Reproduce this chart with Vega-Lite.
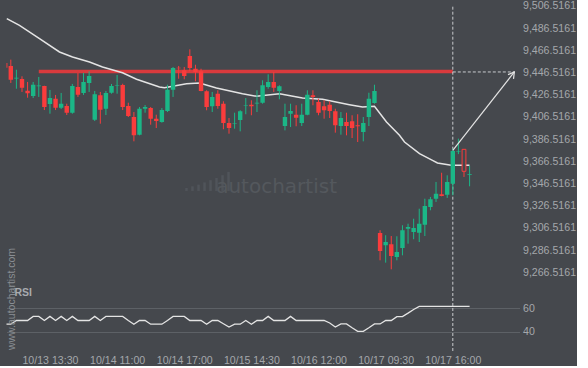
{
  "$schema": "https://vega.github.io/schema/vega-lite/v6.json",
  "background": "#45484d",
  "padding": {"left": 3.5, "top": 0, "right": 0, "bottom": 0},
  "spacing": 0,
  "bounds": "flush",
  "config": {
    "font": "Liberation Sans",
    "view": {"stroke": null},
    "scale": {"continuousPadding": 0},
    "axis": {"labelFont": "Liberation Sans", "labelFontSize": 10.6, "labelColor": "#a4a7ab", "ticks": false, "domain": false, "grid": false, "labelFlush": false, "labelOverlap": false, "tickCount": 30, "title": null}
  },
  "datasets": {
    "candles": [
      {"i":0,"o":9455.1,"h":9456.5,"l":9450.0,"c":9450.8},
      {"i":1,"o":9452.4,"h":9458.1,"l":9437.1,"c":9440.0},
      {"i":2,"o":9441.2,"h":9449.0,"l":9431.9,"c":9441.8},
      {"i":3,"o":9440.7,"h":9443.1,"l":9429.0,"c":9432.8},
      {"i":4,"o":9430.1,"h":9438.0,"l":9423.8,"c":9427.8},
      {"i":5,"o":9425.4,"h":9438.0,"l":9423.5,"c":9435.5},
      {"i":6,"o":9434.2,"h":9442.5,"l":9424.5,"c":9434.8},
      {"i":7,"o":9434.4,"h":9434.6,"l":9412.7,"c":9415.4},
      {"i":8,"o":9418.1,"h":9430.8,"l":9409.4,"c":9423.5},
      {"i":9,"o":9422.9,"h":9426.3,"l":9412.7,"c":9414.8},
      {"i":10,"o":9414.8,"h":9428.1,"l":9413.6,"c":9418.4},
      {"i":11,"o":9416.3,"h":9418.4,"l":9408.2,"c":9410.3},
      {"i":12,"o":9410.3,"h":9436.2,"l":9409.4,"c":9434.4},
      {"i":13,"o":9433.5,"h":9446.1,"l":9424.5,"c":9426.5},
      {"i":14,"o":9428.1,"h":9446.1,"l":9426.3,"c":9438.0},
      {"i":15,"o":9437.1,"h":9447.6,"l":9429.0,"c":9443.4},
      {"i":16,"o":9404.0,"h":9429.9,"l":9402.8,"c":9426.9},
      {"i":17,"o":9426.0,"h":9429.0,"l":9400.4,"c":9413.0},
      {"i":18,"o":9413.9,"h":9429.9,"l":9408.2,"c":9428.1},
      {"i":19,"o":9428.3,"h":9436.2,"l":9427.4,"c":9434.4},
      {"i":20,"o":9434.4,"h":9444.3,"l":9427.4,"c":9434.9},
      {"i":21,"o":9435.3,"h":9436.4,"l":9412.7,"c":9415.4},
      {"i":22,"o":9416.3,"h":9419.3,"l":9406.4,"c":9407.3},
      {"i":23,"o":9406.4,"h":9410.9,"l":9384.5,"c":9389.9},
      {"i":24,"o":9390.5,"h":9415.4,"l":9389.9,"c":9413.9},
      {"i":25,"o":9413.9,"h":9417.2,"l":9410.3,"c":9415.4},
      {"i":26,"o":9414.5,"h":9415.4,"l":9399.5,"c":9404.9},
      {"i":27,"o":9404.9,"h":9408.5,"l":9396.5,"c":9402.8},
      {"i":28,"o":9401.9,"h":9414.5,"l":9401.3,"c":9412.7},
      {"i":29,"o":9411.8,"h":9435.5,"l":9410.9,"c":9431.0},
      {"i":30,"o":9431.0,"h":9451.5,"l":9424.5,"c":9450.6},
      {"i":31,"o":9450.8,"h":9452.4,"l":9440.9,"c":9450.3},
      {"i":32,"o":9448.5,"h":9451.5,"l":9440.4,"c":9443.4},
      {"i":33,"o":9461.4,"h":9467.4,"l":9447.6,"c":9450.6},
      {"i":34,"o":9449.9,"h":9453.5,"l":9438.6,"c":9447.0},
      {"i":35,"o":9447.6,"h":9449.9,"l":9429.6,"c":9429.9},
      {"i":36,"o":9429.6,"h":9430.5,"l":9412.5,"c":9415.4},
      {"i":37,"o":9416.1,"h":9429.0,"l":9410.9,"c":9424.5},
      {"i":38,"o":9427.4,"h":9430.5,"l":9413.9,"c":9416.3},
      {"i":39,"o":9418.4,"h":9420.6,"l":9395.4,"c":9401.0},
      {"i":40,"o":9401.0,"h":9405.5,"l":9391.4,"c":9396.5},
      {"i":41,"o":9400.1,"h":9410.3,"l":9395.9,"c":9400.6},
      {"i":42,"o":9403.7,"h":9412.5,"l":9393.5,"c":9411.6},
      {"i":43,"o":9416.5,"h":9423.5,"l":9408.9,"c":9417.0},
      {"i":44,"o":9417.5,"h":9421.5,"l":9408.0,"c":9416.1},
      {"i":45,"o":9418.7,"h":9430.5,"l":9410.9,"c":9419.3},
      {"i":46,"o":9419.3,"h":9439.5,"l":9418.4,"c":9435.0},
      {"i":47,"o":9433.5,"h":9444.9,"l":9431.9,"c":9438.0},
      {"i":48,"o":9438.0,"h":9447.0,"l":9429.0,"c":9432.8},
      {"i":49,"o":9429.9,"h":9435.0,"l":9422.4,"c":9434.1},
      {"i":50,"o":9398.3,"h":9418.4,"l":9394.4,"c":9406.4},
      {"i":51,"o":9409.4,"h":9418.4,"l":9397.4,"c":9411.8},
      {"i":52,"o":9408.5,"h":9417.0,"l":9398.1,"c":9405.8},
      {"i":53,"o":9401.0,"h":9418.4,"l":9398.3,"c":9408.5},
      {"i":54,"o":9408.5,"h":9430.5,"l":9408.0,"c":9426.5},
      {"i":55,"o":9426.0,"h":9430.5,"l":9417.0,"c":9424.5},
      {"i":56,"o":9419.9,"h":9422.9,"l":9408.0,"c":9410.3},
      {"i":57,"o":9416.1,"h":9421.5,"l":9404.9,"c":9412.5},
      {"i":58,"o":9417.5,"h":9420.6,"l":9405.5,"c":9411.8},
      {"i":59,"o":9411.6,"h":9413.9,"l":9392.3,"c":9399.0},
      {"i":60,"o":9398.3,"h":9410.9,"l":9390.5,"c":9405.5},
      {"i":61,"o":9401.9,"h":9410.3,"l":9389.9,"c":9398.3},
      {"i":62,"o":9402.6,"h":9408.0,"l":9387.5,"c":9396.5},
      {"i":63,"o":9399.0,"h":9408.9,"l":9383.9,"c":9398.1},
      {"i":64,"o":9392.9,"h":9406.4,"l":9384.5,"c":9401.0},
      {"i":65,"o":9406.4,"h":9428.3,"l":9398.3,"c":9422.9},
      {"i":66,"o":9419.0,"h":9435.5,"l":9418.4,"c":9429.9},
      {"i":67,"o":9301.9,"h":9304.4,"l":9277.3,"c":9285.7},
      {"i":68,"o":9290.8,"h":9299.9,"l":9275.2,"c":9293.8},
      {"i":69,"o":9291.7,"h":9299.2,"l":9269.2,"c":9281.2},
      {"i":70,"o":9280.3,"h":9299.0,"l":9277.3,"c":9284.8},
      {"i":71,"o":9288.4,"h":9308.9,"l":9281.8,"c":9304.4},
      {"i":72,"o":9305.8,"h":9310.3,"l":9292.3,"c":9307.3},
      {"i":73,"o":9302.8,"h":9314.8,"l":9296.3,"c":9306.4},
      {"i":74,"o":9302.2,"h":9323.8,"l":9293.8,"c":9310.3},
      {"i":75,"o":9309.4,"h":9332.8,"l":9299.2,"c":9326.3},
      {"i":76,"o":9325.4,"h":9334.4,"l":9322.4,"c":9332.3},
      {"i":77,"o":9332.8,"h":9347.9,"l":9329.9,"c":9337.3},
      {"i":78,"o":9336.8,"h":9356.2,"l":9335.0,"c":9335.3},
      {"i":79,"o":9336.4,"h":9353.9,"l":9333.5,"c":9347.9},
      {"i":80,"o":9346.3,"h":9377.9,"l":9335.9,"c":9375.8},
      {"i":81,"o":9375.3,"h":9386.9,"l":9373.0,"c":9375.7},
      {"i":82,"o":9377.3,"h":9377.5,"l":9352.4,"c":9357.5,"hollow":true},
      {"i":83,"o":9354.5,"h":9362.3,"l":9344.0,"c":9355.0}
    ],
    "ma": [
      {"i":0.28,"p":9495.0},{"i":2.55,"p":9489.0},{"i":6.13,"p":9477.0},{"i":9.7,"p":9465.0},
      {"i":12.03,"p":9460.5},{"i":15.07,"p":9456.0},{"i":17.39,"p":9451.5},{"i":20.96,"p":9446.3},
      {"i":23.47,"p":9440.4},{"i":27.58,"p":9433.5},{"i":28.47,"p":9432.8},{"i":32.4,"p":9436.4},
      {"i":34.73,"p":9437.1},{"i":37.76,"p":9432.6},{"i":42.41,"p":9427.4},{"i":44.91,"p":9425.1},
      {"i":49.02,"p":9427.4},{"i":53.13,"p":9423.5},{"i":56.71,"p":9422.4},{"i":61.53,"p":9417.5},
      {"i":63.86,"p":9415.4},{"i":66.0,"p":9416.1},{"i":68.15,"p":9401.9},{"i":70.47,"p":9389.9},
      {"i":71.37,"p":9383.9},{"i":74.05,"p":9373.4},{"i":76.37,"p":9367.4},{"i":77.26,"p":9365.0},
      {"i":79.71,"p":9362.9},{"i":82.98,"p":9362.9}
    ],
    "rsi": [
      {"i":0,"r":46.5},{"i":1,"r":46.5},{"i":2,"r":49.6},{"i":3,"r":49.6},{"i":4,"r":49.6},
      {"i":5,"r":53.0},{"i":6,"r":53.0},{"i":7,"r":49.6},{"i":8,"r":53.0},{"i":9,"r":49.6},
      {"i":10,"r":53.0},{"i":11,"r":49.6},{"i":12,"r":53.0},{"i":13,"r":49.6},{"i":14,"r":49.6},
      {"i":15,"r":49.6},{"i":16,"r":53.0},{"i":17,"r":49.6},{"i":18,"r":53.0},{"i":19,"r":53.0},
      {"i":20,"r":53.0},{"i":21,"r":53.0},{"i":22,"r":49.6},{"i":23,"r":46.5},{"i":24,"r":49.6},
      {"i":25,"r":49.6},{"i":26,"r":46.5},{"i":27,"r":46.5},{"i":28,"r":46.5},{"i":29,"r":49.6},
      {"i":30,"r":53.0},{"i":31,"r":53.0},{"i":32,"r":53.0},{"i":33,"r":49.6},{"i":34,"r":49.6},
      {"i":35,"r":49.6},{"i":36,"r":46.5},{"i":37,"r":49.6},{"i":38,"r":49.6},{"i":39,"r":46.9},
      {"i":40,"r":44.2},{"i":41,"r":46.5},{"i":42,"r":46.5},{"i":43,"r":49.6},{"i":44,"r":46.5},
      {"i":45,"r":49.6},{"i":46,"r":49.6},{"i":47,"r":53.0},{"i":48,"r":49.6},{"i":49,"r":49.6},
      {"i":50,"r":49.6},{"i":51,"r":53.0},{"i":52,"r":49.6},{"i":53,"r":49.6},{"i":54,"r":49.6},
      {"i":55,"r":49.6},{"i":56,"r":49.6},{"i":57,"r":49.6},{"i":58,"r":47.5},{"i":59,"r":44.2},
      {"i":60,"r":46.7},{"i":61,"r":46.7},{"i":62,"r":43.5},{"i":63,"r":40.5},{"i":64,"r":40.5},
      {"i":65,"r":43.5},{"i":66,"r":46.7},{"i":67,"r":46.7},{"i":68,"r":49.6},{"i":69,"r":49.6},
      {"i":70,"r":52.8},{"i":71,"r":52.8},{"i":72,"r":55.7},{"i":73,"r":58.8},{"i":74,"r":61.3},
      {"i":75,"r":61.3},{"i":76,"r":61.3},{"i":77,"r":61.3},{"i":78,"r":61.3},{"i":79,"r":61.3},
      {"i":80,"r":61.3},{"i":81,"r":61.3},{"i":82,"r":61.3},{"i":83,"r":61.3}
    ],
    "logo": [
      {"i":32.4,"b":9339.8,"t":9342.5},{"i":33.47,"b":9339.8,"t":9344.0},{"i":34.55,"b":9339.8,"t":9345.5},
      {"i":35.62,"b":9339.8,"t":9347.5},{"i":36.69,"b":9339.8,"t":9349.5},{"i":37.76,"b":9339.8,"t":9351.5},
      {"i":38.84,"b":9339.8,"t":9354.0},{"i":39.91,"b":9339.8,"t":9357.0}
    ],
    "arrow": [
      {"seg":"shaft","k":0,"i":80,"p":9376.4},{"seg":"shaft","k":1,"i":91.0,"p":9447.0},
      {"seg":"head","k":0,"i":89.87,"p":9444.6},{"seg":"head","k":1,"i":91.0,"p":9447.0},{"seg":"head","k":2,"i":90.85,"p":9440.8}
    ]
  },
  "vconcat": [
    {
      "width": 513,
      "height": 286,
      "encoding": {"x": {"field": "i", "type": "quantitative", "scale": {"domain": [0.231, 91.92], "nice": false, "zero": false, "padding": 0}, "axis": null}},
      "layer": [
        {
          "data": {"values": [{"i": 6, "i2": 80, "p": 9447.4}]},
          "mark": {"type": "rule", "color": "#d93a3d", "strokeWidth": 3.5},
          "encoding": {
            "x2": {"field": "i2"},
            "y": {"field": "p", "type": "quantitative", "scale": {"domain": [9252.37, 9510.03], "nice": false, "zero": false, "padding": 0},
                  "axis": {"orient": "right", "title": null, "format": ",.4f", "labelPadding": 3, "labelOverlap": false, "tickCount": 30,
                           "values": [9266.5161, 9286.5161, 9306.5161, 9326.5161, 9346.5161, 9366.5161, 9386.5161, 9406.5161, 9426.5161, 9446.5161, 9466.5161, 9486.5161, 9506.5161]}}
          }
        },
        {
          "data": {"values": [{"i": 80, "i2": 91, "p": 9447.0}]},
          "mark": {"type": "rule", "color": "#c9cbce", "strokeWidth": 1, "strokeDash": [3, 2]},
          "encoding": {"x2": {"field": "i2"}, "y": {"field": "p", "type": "quantitative", "scale": {"domain": [9252.37, 9510.03], "nice": false, "zero": false, "padding": 0}}}
        },
        {
          "data": {"values": [{"i": 80, "top": 9505.8, "bot": 9252.37}]},
          "mark": {"type": "rule", "color": "#c9cbce", "strokeWidth": 1, "strokeDash": [3, 2]},
          "encoding": {"y": {"field": "top", "type": "quantitative", "scale": {"domain": [9252.37, 9510.03], "nice": false, "zero": false, "padding": 0}}, "y2": {"field": "bot"}}
        },
        {
          "data": {"name": "logo"},
          "mark": {"type": "rule", "color": "#50545a", "strokeWidth": 2.5},
          "encoding": {"y": {"field": "b", "type": "quantitative", "scale": {"domain": [9252.37, 9510.03], "nice": false, "zero": false, "padding": 0}}, "y2": {"field": "t"}}
        },
        {
          "data": {"values": [{"i": 48.5, "p": 9343.4, "txt": "autochartist"}]},
          "mark": {"type": "text", "font": "DejaVu Sans", "fontSize": 20, "color": "#54585d", "align": "center", "baseline": "middle"},
          "encoding": {"y": {"field": "p", "type": "quantitative", "scale": {"domain": [9252.37, 9510.03], "nice": false, "zero": false, "padding": 0}}, "text": {"field": "txt"}}
        },
        {
          "data": {"name": "ma"},
          "mark": {"type": "line", "color": "#e4e4e4", "strokeWidth": 1.5},
          "encoding": {"y": {"field": "p", "type": "quantitative", "scale": {"domain": [9252.37, 9510.03], "nice": false, "zero": false, "padding": 0}}}
        },
        {
          "data": {"name": "candles"},
          "mark": {"type": "rule", "strokeWidth": 1, "clip": true},
          "encoding": {
            "y": {"field": "l", "type": "quantitative", "scale": {"domain": [9252.37, 9510.03], "nice": false, "zero": false, "padding": 0}},
            "y2": {"field": "h"},
            "color": {"condition": {"test": "datum.c >= datum.o", "value": "#1bb787"}, "value": "#fa3c3c"}
          }
        },
        {
          "data": {"name": "candles"},
          "transform": [{"filter": "!datum.hollow"}],
          "mark": {"type": "bar", "size": 4.4, "clip": true},
          "encoding": {
            "y": {"field": "o", "type": "quantitative", "scale": {"domain": [9252.37, 9510.03], "nice": false, "zero": false, "padding": 0}},
            "y2": {"field": "c"},
            "color": {"condition": {"test": "datum.c >= datum.o", "value": "#1bb787"}, "value": "#fa3c3c"}
          }
        },
        {
          "data": {"name": "candles"},
          "transform": [{"filter": "datum.hollow"}],
          "mark": {"type": "bar", "size": 3.8, "fill": "#45484d", "stroke": "#fa3c3c", "strokeWidth": 1},
          "encoding": {
            "y": {"field": "o", "type": "quantitative", "scale": {"domain": [9252.37, 9510.03], "nice": false, "zero": false, "padding": 0}},
            "y2": {"field": "c"}
          }
        },
        {
          "data": {"name": "arrow"},
          "mark": {"type": "line", "color": "#e4e4e4", "strokeWidth": 1.2},
          "encoding": {
            "y": {"field": "p", "type": "quantitative", "scale": {"domain": [9252.37, 9510.03], "nice": false, "zero": false, "padding": 0}},
            "detail": {"field": "seg"},
            "order": {"field": "k", "type": "quantitative"}
          }
        }
      ]
    },
    {
      "width": 513,
      "height": 64,
      "encoding": {
        "x": {"field": "i", "type": "quantitative", "scale": {"domain": [0.231, 91.92], "nice": false, "zero": false, "padding": 0},
              "axis": {"orient": "bottom", "title": null, "labelPadding": 3, "labelOverlap": false, "tickCount": 30, "values": [8, 20, 32, 44, 56, 68, 80],
                       "labelExpr": "datum.value == 8 ? '10/13 13:30' : datum.value == 20 ? '10/14 11:00' : datum.value == 32 ? '10/14 17:00' : datum.value == 44 ? '10/15 14:30' : datum.value == 56 ? '10/16 12:00' : datum.value == 68 ? '10/17 09:30' : '10/17 16:00'"}}
      },
      "layer": [
        {
          "data": {"name": "rsi"},
          "mark": {"type": "line", "color": "#e4e4e4", "strokeWidth": 1.3, "clip": true},
          "encoding": {
            "y": {"field": "r", "type": "quantitative", "scale": {"domain": [23.33, 76.67], "nice": false, "zero": false, "padding": 0},
                  "axis": {"orient": "right", "title": null, "labelPadding": 3, "values": [40, 60], "grid": true, "gridColor": "#5d6166", "gridWidth": 1}}
          }
        },
        {
          "data": {"values": [{"i": 80}]},
          "mark": {"type": "rule", "color": "#c9cbce", "strokeWidth": 1, "strokeDash": [3, 2]},
          "encoding": {}
        },
        {
          "data": {"values": [{"i": 1.25, "r": 67.5, "txt": "www.autochartist.com"}]},
          "mark": {"type": "text", "angle": 270, "fontSize": 10.5, "color": "#8a8e93", "align": "center", "baseline": "middle"},
          "encoding": {"y": {"field": "r", "type": "quantitative", "scale": {"domain": [23.33, 76.67], "nice": false, "zero": false, "padding": 0}}, "text": {"field": "txt"}}
        },
        {
          "data": {"values": [{"i": 1.66, "r": 72.5, "txt": "RSI"}]},
          "mark": {"type": "text", "fontSize": 10.5, "fontWeight": "bold", "color": "#a8abaf", "align": "left", "baseline": "middle"},
          "encoding": {"y": {"field": "r", "type": "quantitative", "scale": {"domain": [23.33, 76.67], "nice": false, "zero": false, "padding": 0}}, "text": {"field": "txt"}}
        }
      ]
    }
  ]
}
